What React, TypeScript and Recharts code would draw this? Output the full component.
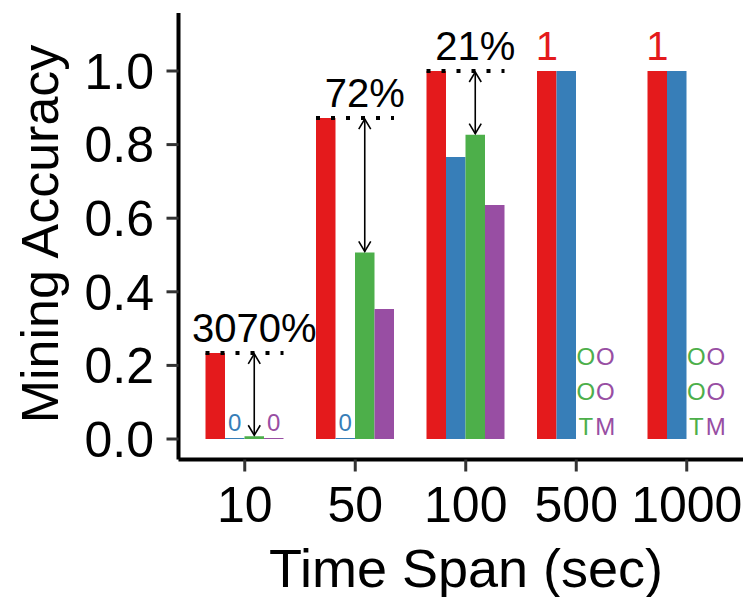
import { BarChart, Bar, XAxis, YAxis, LabelList } from "recharts";

const timeSpans = ["10", "50", "100", "500", "1000"];
const redValues = [0.234, 0.872, 1.0, 1.0, 1.0];
const blueValues = [0, 0, 0.766, 1.0, 1.0];
const greenValues = [0.0074, 0.507, 0.827, null, null];
const purpleValues = [0, 0.353, 0.636, null, null];
const gapLabels = ["3070%", "72%", "21%", "", ""];
const topLabels = ["", "", "", "1", "1"];
const greenMissing = ["", "", "", "OOT", "OOT"];
const purpleMissing = ["", "", "", "OOM", "OOM"];
const yTicks = [0, 0.2, 0.4, 0.6, 0.8, 1.0];

const RED = "#E41A1C";
const BLUE = "#377EB8";
const GREEN = "#4DAF4A";
const PURPLE = "#984EA3";
const FONT = "'Liberation Sans', Arial, sans-serif";

const data = timeSpans.map((span, i) => ({
  span,
  red: redValues[i],
  blue: blueValues[i],
  green: greenValues[i],
  purple: purpleValues[i],
}));

// everything drawn around a group is placed from the red bar's rect
const GroupNotes = (props: any) => {
  const box = props.viewBox ?? props;
  const { x, y, width, height } = box;
  const i = props.index;
  const base = y + height;
  const perUnit = height / redValues[i];
  const blueX = x + width * 1.5;
  const greenX = x + width * 2.5;
  const purpleX = x + width * 3.5;
  const out: any[] = [];

  if (gapLabels[i]) {
    const g = greenValues[i] as number;
    const gTop = base - g * perUnit;
    out.push(
      <line key="dots" x1={x} x2={x + width * 4} y1={y} y2={y} stroke="#000" strokeWidth={4} strokeDasharray="4 11" />,
      <line key="arr" x1={greenX} x2={greenX} y1={y + 1} y2={gTop - 1} stroke="#000" strokeWidth={1.6} />,
      <path key="h1" d={`M${greenX - 6},${y + 11} L${greenX},${y + 1} L${greenX + 6},${y + 11}`} fill="none" stroke="#000" strokeWidth={1.6} />,
      <path key="h2" d={`M${greenX - 6},${gTop - 11} L${greenX},${gTop - 1} L${greenX + 6},${gTop - 11}`} fill="none" stroke="#000" strokeWidth={1.6} />,
      <text key="pct" x={greenX} y={y - 11} textAnchor="middle" fontSize={40} fontFamily={FONT} fill="#000">
        {gapLabels[i]}
      </text>
    );
  }
  if (topLabels[i]) {
    out.push(
      <text key="top" x={x + width / 2} y={y - 11} textAnchor="middle" fontSize={40} fontFamily={FONT} fill={RED}>
        {topLabels[i]}
      </text>
    );
  }
  if (blueValues[i] === 0) {
    out.push(
      <text key="b0" x={blueX} y={base - 8} textAnchor="middle" fontSize={24} fontFamily={FONT} fill={BLUE}>0</text>
    );
  }
  if (purpleValues[i] === 0) {
    out.push(
      <text key="p0" x={purpleX} y={base - 8} textAnchor="middle" fontSize={24} fontFamily={FONT} fill={PURPLE}>0</text>
    );
  }
  [greenMissing[i], purpleMissing[i]].forEach((word, k) => {
    if (!word) return;
    const cx = k === 0 ? greenX : purpleX;
    const col = k === 0 ? GREEN : PURPLE;
    word.split("").forEach((ch, j) => {
      out.push(
        <text key={`m${k}${j}`} x={cx} y={base - 4 - (2 - j) * 35} textAnchor="middle" fontSize={24} fontFamily={FONT} fill={col}>
          {ch}
        </text>
      );
    });
  });
  return <g>{out}</g>;
};

const zeroLine = (v: any) => (v === 0 ? 1 : 0);

export default function App() {
  return (
    <div style={{ position: "fixed", left: 0, top: 0, width: 743, height: 597, overflow: "hidden", background: "#fff" }}>
      <BarChart
        width={760}
        height={597}
        data={data}
        margin={{ top: 13, right: 7, bottom: 0, left: 0 }}
        barGap={0}
      >
        <XAxis
          dataKey="span"
          height={137.5}
          padding={{ left: 11, right: 11 }}
          axisLine={{ stroke: "#000", strokeWidth: 4 }}
          tickLine={{ stroke: "#333", strokeWidth: 3 }}
          tickSize={12}
          tickMargin={15}
          tick={{ fill: "#000", fontSize: 50, fontFamily: FONT }}
        />
        <YAxis
          type="number"
          width={178.5}
          domain={[-0.0557, 1.1576]}
          ticks={yTicks}
          allowDataOverflow
          tickFormatter={(v: number) => v.toFixed(1)}
          axisLine={{ stroke: "#000", strokeWidth: 4 }}
          tickLine={{ stroke: "#333", strokeWidth: 3 }}
          tickSize={12}
          tickMargin={12.5}
          tick={{ fill: "#000", fontSize: 50, fontFamily: FONT }}
        />
        <Bar dataKey="red" fill={RED} barSize={19.5} isAnimationActive={false}>
          <LabelList dataKey="red" content={<GroupNotes />} />
        </Bar>
        <Bar dataKey="blue" fill={BLUE} barSize={19.5} minPointSize={zeroLine} isAnimationActive={false} />
        <Bar dataKey="green" fill={GREEN} barSize={19.5} isAnimationActive={false} />
        <Bar dataKey="purple" fill={PURPLE} barSize={19.5} minPointSize={zeroLine} isAnimationActive={false} />
      </BarChart>
      <svg width={743} height={597} style={{ position: "absolute", left: 0, top: 0, pointerEvents: "none" }}>
        <text x={466} y={587} textAnchor="middle" fontSize={54} fontFamily={FONT} fill="#000">
          Time Span (sec)
        </text>
        <text x={58} y={234} transform="rotate(-90, 58, 234)" textAnchor="middle" fontSize={52} fontFamily={FONT} fill="#000">
          Mining Accuracy
        </text>
      </svg>
    </div>
  );
}
